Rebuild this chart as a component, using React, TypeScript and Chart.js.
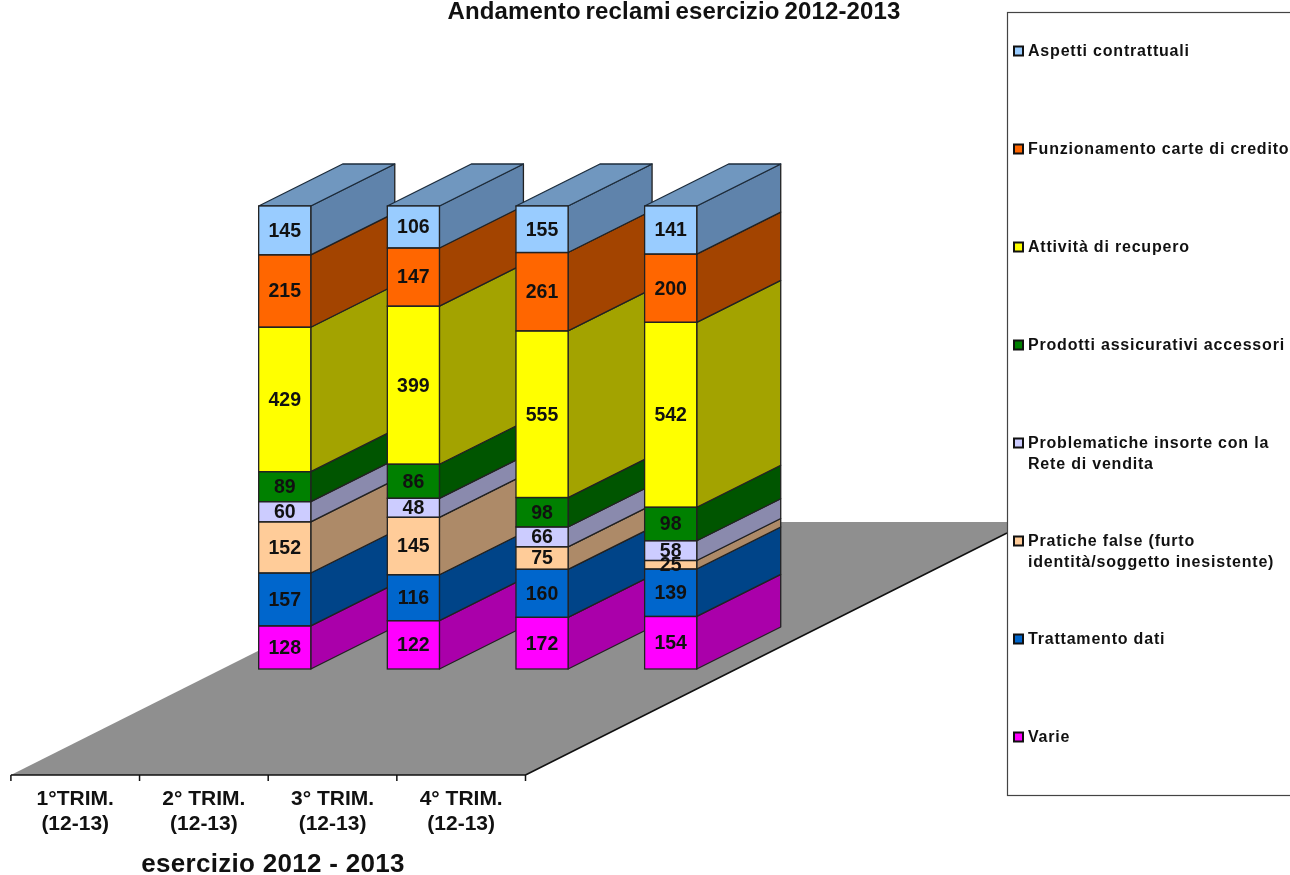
import React, { useEffect, useRef } from "react";
import { Chart, registerables } from "chart.js";

Chart.register(...registerables);

const quarters = [
  ["1°TRIM.", "(12-13)"],
  ["2° TRIM.", "(12-13)"],
  ["3° TRIM.", "(12-13)"],
  ["4° TRIM.", "(12-13)"],
];
const varie = [128, 122, 172, 154];
const trattamentoDati = [157, 116, 160, 139];
const praticheFalse = [152, 145, 75, 25];
const reteVendita = [60, 48, 66, 58];
const prodottiAssicurativi = [89, 86, 98, 98];
const attivitaRecupero = [429, 399, 555, 542];
const carteCredito = [215, 147, 261, 200];
const aspettiContrattuali = [145, 106, 155, 141];

const seriesValues = [
  varie,
  trattamentoDati,
  praticheFalse,
  reteVendita,
  prodottiAssicurativi,
  attivitaRecupero,
  carteCredito,
  aspettiContrattuali,
];
const seriesNames = [
  ["Varie"],
  ["Trattamento dati"],
  ["Pratiche false (furto", "identità/soggetto inesistente)"],
  ["Problematiche insorte con la", "Rete di vendita"],
  ["Prodotti assicurativi accessori"],
  ["Attività di recupero"],
  ["Funzionamento carte di credito"],
  ["Aspetti contrattuali"],
];
const frontColors = ["#FF00FF", "#0066CC", "#FFCC99", "#CCCCFF", "#008000", "#FFFF00", "#FF6600", "#99CCFF"];
const sideColors = ["#AA00AA", "#004488", "#AD8A68", "#8A8AAD", "#005500", "#A3A300", "#A34400", "#5F83AB"];
const topColor = "#7097BF";
const floorColor = "#8F8F8F";
const edgeColor = "#222222";
const FONT = '"Liberation Sans", Arial, sans-serif';
const DEPTH_X = 84;
const DEPTH_Y = 42;
const LABEL_SHIFT = 209.5;
const FLOOR_DROP = 106;

const totals = quarters.map((_, i) => seriesValues.reduce((sum, s) => sum + s[i], 0));

function poly(ctx: CanvasRenderingContext2D, pts: number[][], fill: string, stroke: string | null, lw = 1.3) {
  ctx.beginPath();
  pts.forEach((p, i) => (i ? ctx.lineTo(p[0], p[1]) : ctx.moveTo(p[0], p[1])));
  ctx.closePath();
  ctx.fillStyle = fill;
  ctx.fill();
  if (stroke) {
    ctx.strokeStyle = stroke;
    ctx.lineWidth = lw;
    ctx.lineJoin = "round";
    ctx.stroke();
  }
}

const scenePlugin = {
  id: "scene3d",
  beforeDatasetsDraw(chart: any) {
    const { ctx, chartArea: a } = chart;
    const floorY = a.bottom + FLOOR_DROP;
    const fl = a.left - LABEL_SHIFT;
    const fr = a.right - LABEL_SHIFT;
    const backY = floorY - 253;
    ctx.save();
    poly(ctx, [[fl, floorY], [fr, floorY], [1007, floorY - 242], [1007, backY], [fl + 504, backY]], floorColor, null);
    ctx.strokeStyle = "#111";
    ctx.lineWidth = 1.5;
    ctx.beginPath();
    ctx.moveTo(fr, floorY);
    ctx.lineTo(1007, floorY - 242);
    ctx.moveTo(fl, floorY);
    ctx.lineTo(fr, floorY);
    const band = (a.right - a.left) / quarters.length;
    for (let i = 0; i <= quarters.length; i++) {
      ctx.moveTo(fl + band * i, floorY);
      ctx.lineTo(fl + band * i, floorY + 6);
    }
    ctx.stroke();
    chart.data.datasets.forEach((_: any, d: number) => {
      chart.getDatasetMeta(d).data.forEach((bar: any) => {
        const x = bar.x + bar.width / 2;
        poly(
          ctx,
          [[x, bar.y], [x + DEPTH_X, bar.y - DEPTH_Y], [x + DEPTH_X, bar.base - DEPTH_Y], [x, bar.base]],
          sideColors[d],
          edgeColor,
        );
        if (d === seriesValues.length - 1) {
          const l = bar.x - bar.width / 2;
          poly(
            ctx,
            [[l, bar.y], [l + DEPTH_X, bar.y - DEPTH_Y], [x + DEPTH_X, bar.y - DEPTH_Y], [x, bar.y]],
            topColor,
            "#1c2c3c",
          );
        }
      });
    });
    ctx.restore();
  },
  afterDatasetsDraw(chart: any) {
    const { ctx } = chart;
    ctx.save();
    ctx.strokeStyle = edgeColor;
    ctx.lineWidth = 1.3;
    chart.data.datasets.forEach((_: any, d: number) => {
      chart.getDatasetMeta(d).data.forEach((bar: any) => {
        ctx.strokeRect(bar.x - bar.width / 2, bar.y, bar.width, bar.base - bar.y);
      });
    });
    ctx.font = `bold 19.5px ${FONT}`;
    ctx.textAlign = "center";
    ctx.textBaseline = "middle";
    ctx.fillStyle = "#111";
    chart.data.datasets.forEach((_: any, d: number) => {
      chart.getDatasetMeta(d).data.forEach((bar: any, i: number) => {
        ctx.fillText(String(seriesValues[d][i]), bar.x, (bar.y + bar.base) / 2 + 1);
      });
    });
    ctx.restore();
  },
  afterDraw(chart: any) {
    const { ctx } = chart;
    ctx.save();
    ctx.fillStyle = "#111";
    ctx.textBaseline = "middle";
    ctx.textAlign = "center";
    ctx.font = `bold 24px ${FONT}`;
    (ctx as any).wordSpacing = "-2px";
    (ctx as any).letterSpacing = "0.15px";
    ctx.fillText("Andamento reclami esercizio 2012-2013", 674, 12);
    ctx.font = `bold 26px ${FONT}`;
    (ctx as any).wordSpacing = "0px";
    (ctx as any).letterSpacing = "0.3px";
    ctx.fillText("esercizio 2012 - 2013", 273, 865);

    ctx.strokeStyle = "#444";
    ctx.lineWidth = 1.2;
    ctx.strokeRect(1007.5, 12.5, 300, 783);
    ctx.textAlign = "left";
    ctx.font = `bold 16px ${FONT}`;
    (ctx as any).letterSpacing = "0.8px";
    for (let k = 0; k < seriesNames.length; k++) {
      const d = seriesNames.length - 1 - k;
      const y = 51 + k * 98;
      ctx.fillStyle = frontColors[d];
      ctx.strokeStyle = "#111";
      ctx.lineWidth = 2;
      ctx.fillRect(1014, y - 4.5, 9, 9);
      ctx.strokeRect(1014, y - 4.5, 9, 9);
      ctx.fillStyle = "#111";
      seriesNames[d].forEach((line, n) => ctx.fillText(line, 1028, y + 1 + n * 21));
    }
    ctx.restore();
  },
};

export default function App() {
  const ref = useRef<HTMLCanvasElement>(null);
  useEffect(() => {
    const chart = new Chart(ref.current!, {
      type: "bar",
      data: {
        labels: quarters,
        datasets: seriesValues.map((values, d) => ({
          label: seriesNames[d].join(" "),
          data: values.map((v, i) => (v / totals[i]) * 100),
          backgroundColor: frontColors[d],
          borderWidth: 0,
          barPercentage: 0.405,
          categoryPercentage: 1,
        })),
      } as any,
      options: {
        responsive: false,
        animation: false,
        devicePixelRatio: 1,
        layout: { padding: { top: 206, left: 220.4, right: 555, bottom: 0 } },
        plugins: { legend: { display: false }, title: { display: false }, tooltip: { enabled: false } },
        scales: {
          x: {
            stacked: true,
            border: { display: false },
            grid: { display: false },
            afterFit: (scale: any) => {
              scale.height = 206;
            },
            ticks: {
              autoSkip: false,
              maxRotation: 0,
              minRotation: 0,
              labelOffset: -LABEL_SHIFT,
              padding: 109.5,
              color: "#111",
              font: { family: FONT, size: 21, weight: "bold", lineHeight: 1.2 },
            },
          },
          y: { stacked: true, display: false, min: 0, max: 100 },
        },
      } as any,
      plugins: [scenePlugin],
    });
    return () => chart.destroy();
  }, []);
  return (
    <canvas
      ref={ref}
      width={1290}
      height={875}
      style={{ position: "absolute", left: 0, top: 0, width: 1290, height: 875, display: "block", background: "#fff" }}
    />
  );
}
